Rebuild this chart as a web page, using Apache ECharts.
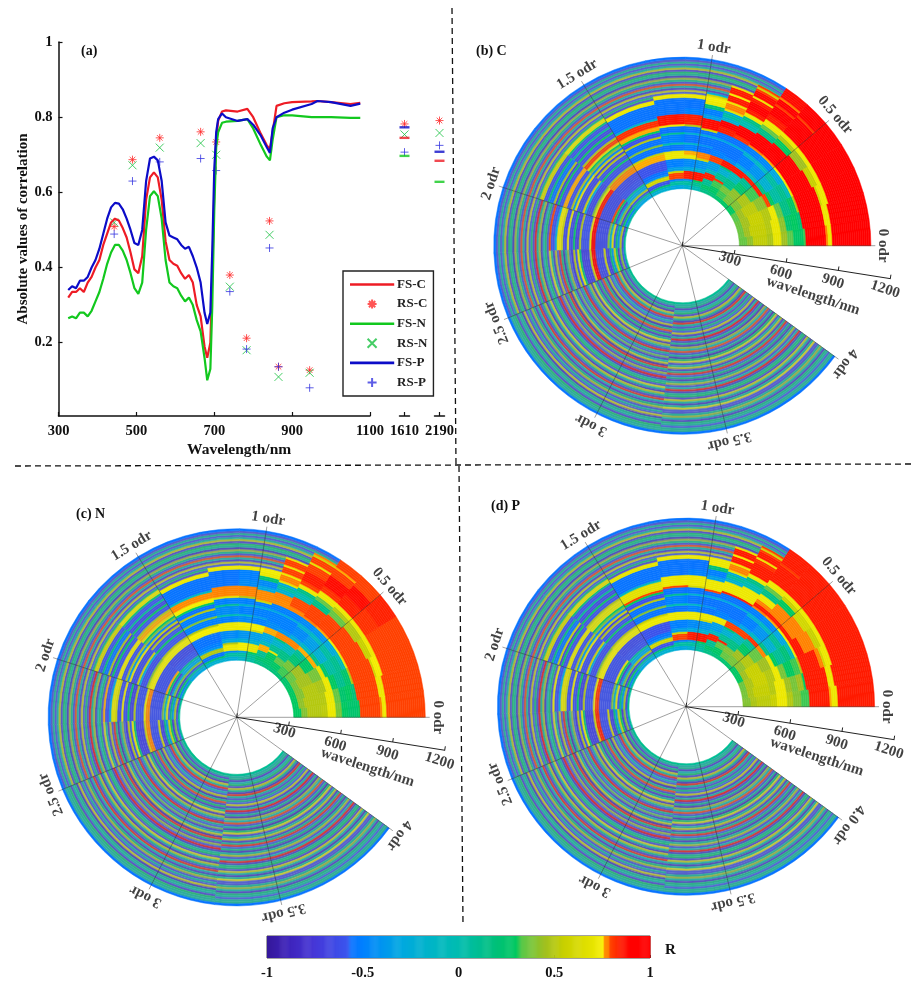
<!DOCTYPE html>
<html><head><meta charset="utf-8">
<style>html,body{margin:0;padding:0;background:#fff}#c{width:916px;height:981px}</style>
<script src="https://cdn.jsdelivr.net/npm/echarts@6/dist/echarts.min.js"></script>
</head><body><div id="c"></div>
<script>
// ---------- panel (a) data ----------
const fsWl=[325,335,345,355,365,375,385,395,405,415,425,435,445,455,465,475,485,495,505,515,525,535,545,555,565,575,585,595,605,615,625,635,645,655,665,675,682,690,695,700,705,710,720,730,760,785,800,820,835,843,850,860,880,900,950,965,1000,1050,1075];
const fsC=[.32,.335,.335,.345,.335,.36,.375,.40,.42,.46,.49,.52,.53,.525,.505,.48,.44,.395,.385,.43,.58,.64,.653,.64,.58,.47,.42,.41,.405,.385,.37,.38,.36,.30,.27,.19,.16,.20,.38,.60,.74,.79,.815,.818,.815,.822,.80,.755,.725,.715,.76,.83,.837,.84,.842,.843,.84,.835,.838];
const fsN=[.265,.27,.265,.28,.28,.27,.285,.31,.335,.37,.41,.44,.46,.46,.445,.42,.385,.345,.33,.36,.50,.59,.603,.59,.53,.42,.36,.35,.345,.325,.31,.32,.30,.26,.23,.16,.10,.13,.30,.55,.72,.76,.785,.788,.79,.795,.77,.725,.695,.685,.74,.80,.805,.805,.80,.80,.80,.798,.798];
const fsP=[.34,.35,.345,.365,.365,.375,.40,.42,.45,.49,.53,.56,.572,.57,.555,.53,.50,.465,.46,.50,.63,.69,.695,.685,.63,.52,.485,.48,.475,.46,.45,.455,.43,.40,.36,.28,.25,.28,.45,.66,.76,.795,.81,.80,.79,.795,.78,.75,.72,.705,.77,.80,.812,.82,.835,.843,.84,.83,.836];
const rsWl=[443,490,560,665,705,740,783,842,865,945];
const rsC=[.509,.687,.745,.761,.734,.38,.212,.524,.136,.127];
const rsN=[.52,.672,.719,.731,.70,.349,.18,.487,.109,.12];
const rsP=[.489,.63,.681,.69,.658,.336,.183,.452,.136,.08];
const extraBands=[1610,2190];
const rsCExtra=[.782,.791], rsNExtra=[.754,.758], rsPExtra=[.707,.725];
const fsCExtra=[.745,.684], fsNExtra=[.697,.628], fsPExtra=[.773,.708];
const yTicks=[.2,.4,.6,.8,1];
// ---------- polar panels: R x 100 as [value, ringCount, ...], inner ring first; rings left over use the stripe list ----------
const orderEdges=[0,.1,.2,.3,.4,.5,.6,.7,.8,.9,1,1.1,1.25,1.5,1.75,2,2.25,2.5,3.25,4];
const firstBand=325, lastBand=1075, ringCount=65;
const stripesA=[10,-80,15,55,-75,5,85,-60,30,-85,0,70,-70,12,50,-55,88,8,-80,30,5,-75,60,15,-85,80,0,-60,45,10,-90,20,85,-65,55,-80,8,72,-70,30,0,-85,50,12,90,-75,25,-60,60,-80,5,80,-70,15,45,-85,10,30,-75,55,8,-65,12,-70,-55];
const stripesB=[12,8,-75,20,-85,60,5,85,-70,0,-60,55,-90,15,80,-75,30,-80,10,72,-85,50,5,-70,88,12,-60,35,-80,0,60,-90,85,15,-75,45,-60,90,-80,8,30,-70,70,5,-85,55,12,-75,85,0,-80,20,48,-70,10,-65,60,-85,15,5,-75,30,10,8,-55];
const stripesC=[10,5,15,-80,0,30,-75,55,12,-85,85,8,-70,20,-60,60,-80,5,90,-75,15,-85,45,0,80,-70,10,-90,30,70,-75,5,55,-80,12,85,-60,20,-85,8,50,-70,0,88,-80,15,30,-75,60,5,-85,10,72,-65,-70,12,45,5,-80,20,8,-60,10,15,-55];
const columnsC=[
[35,4,42,3,53,7,48,3,70,4,45,3,33,3,28,5,32,1,90,10,78,1,72,2,90,19],
[36,3,45,3,54,8,50,3,71,4,42,3,25,3,30,3,22,2,90,11,72,3,90,19],
[36,3,46,4,55,7,50,4,72,3,35,3,15,4,28,3,50,1,90,11,60,1,72,3,90,18],
[33,3,45,3,52,7,42,5,80,2,30,2,5,4,12,3,-5,2,72,1,90,10,55,3,72,2,90,18],
[30,3,40,4,48,5,32,5,85,2,15,2,-20,4,5,3,-30,3,74,1,90,9,45,4,72,2,90,18],
[28,2,38,4,42,4,25,4,10,3,85,2,-10,2,-40,5,-10,2,-45,3,76,1,90,8,30,3,50,2,72,2,90,10,80,1,90,7],
[25,2,32,3,38,3,15,4,-5,4,86,3,-30,2,-50,5,-20,2,-50,3,78,1,90,7,15,3,35,2,72,3,85,3,90,5,80,1,90,3,78,1,88,5],
[20,2,28,3,32,3,82,1,10,3,-20,3,20,1,86,3,-45,2,-55,6,-25,1,-55,3,82,2,90,5,0,3,15,2,72,2,85,2,90,4,85,2,72,1,88,3,80,1,60,1,80,1],
[15,2,25,2,10,3,84,3,-10,2,-35,4,80,3,-50,3,-55,5,-30,1,-55,3,85,3,90,3,-20,2,5,2,-30,1,70,1,78,3,72,1,85,3,75,1,85,3,70,1],
[-5,2,10,2,30,1,86,4,-20,2,-40,4,60,1,78,3,-55,3,-40,1,-55,4,-25,1,-55,2,60,1,88,5,-35,2,-50,3,20,2,72,2,74,2,60,1,-20,1],
[-20,2,5,2,-40,1,85,4,-30,2,-45,4,72,2,76,2,-50,3,-15,1,-55,4,-20,1,-55,3,50,1,84,5,-50,3,-55,5,72,2],
[-30,2,5,2,-50,1,80,3,60,1,-35,2,-50,4,72,3,70,1,-55,3,0,1,-50,4,10,1,-55,3,72,1,86,5,-55,8,72,2],
[-20,2,20,1,-60,2,60,2,-40,1,-55,2,-60,5,76,3,55,1,-55,3,40,1,-55,3,50,1,-60,2,30,1,76,2,82,3,-10,1,-55,7,72,2],
[-30,2,10,1,-60,1,50,1,-30,2,10,1,-60,3,-65,4,78,3,50,1,-60,3,30,1,-60,2,50,1,-70,1,60,1,-50,1,40,1,30,1,70,1,80,2,50,1,-60,2,30,1,-65,2,10,1,-60,2,20,1,70,2],
[5,1,-50,1,30,1,-70,1,40,1,-20,1,-70,1,30,1,80,1,-65,6,85,2,70,1,40,1,-65,3,-30,1,60,1,-65,3,72,1,-40,1,50,1,-60,2,76,2,-60,2,30,1,-70,1,50,1,-55,2,20,1,-60,2,60,2],
[10,1,-70,1,50,1,-40,1,20,1,-60,1,70,1,-20,1,40,1,-65,6,90,2,72,1,-60,4,50,1,-70,2,30,1,-65,2,72,1,-65,2,60,1,72,2,-30,1,-60,2,80,1],
[8,1,-60,1,40,1,-75,1,30,1,60,1,-40,1,20,1,-70,2,60,1,-65,4,90,2,60,1,-70,4,20,1,72,1,-60,1,50,1,-75,1]
];
const columnsN=[
[30,4,40,3,50,7,52,3,72,4,38,3,30,3,25,5,30,1,80,10,78,1,72,2,80,19],
[30,3,42,3,50,8,50,3,72,4,35,3,25,3,30,3,20,2,80,11,72,3,80,19],
[30,3,40,4,50,7,48,4,72,3,30,3,12,4,25,3,50,1,80,11,60,1,74,3,80,18],
[28,3,38,3,46,7,38,5,70,2,25,2,5,4,12,3,-5,2,72,1,80,10,55,3,72,2,80,18],
[25,3,35,4,45,5,28,5,76,2,15,2,-20,4,5,3,-25,3,74,1,80,9,50,4,72,2,82,8,84,10],
[22,2,32,4,38,4,22,4,10,3,76,2,-10,2,-35,5,-10,2,-40,3,76,1,80,8,35,3,50,2,72,2,84,6,88,6,80,6],
[20,2,28,3,34,3,15,4,-5,4,78,3,-25,2,-45,5,-20,2,-45,3,78,1,80,7,15,3,35,2,72,3,82,3,88,6,80,4,76,1,80,5],
[18,2,25,3,30,3,72,1,10,3,-15,3,20,1,78,3,-40,2,-50,6,-25,1,-50,3,78,2,79,5,0,3,15,2,72,2,80,2,85,5,80,4,70,1,80,3,60,1,78,1],
[15,2,22,2,10,3,76,3,-10,2,-30,4,76,3,-45,3,-50,5,-30,1,-50,3,77,3,78,3,-20,2,5,2,-30,1,70,1,78,3,72,1,80,3,72,1,80,3,70,1],
[5,2,10,2,30,1,70,4,-20,2,-35,4,60,1,74,3,-50,3,-35,1,-50,4,-25,1,-50,2,60,1,77,5,-30,2,-45,3,20,2,72,2,74,2],
[-15,2,5,2,-35,1,74,4,-25,2,-40,4,72,2,74,2,-45,3,-15,1,-50,4,-20,1,-50,3,50,1,78,5,-45,3,-50,5,72,2],
[-25,2,5,2,-45,1,72,3,50,1,-30,2,-45,4,72,4,-50,3,0,1,-45,4,10,1,-50,3,70,1,78,5,-55,8,72,2],
[-20,2,20,1,-55,2,50,2,-35,1,-50,2,-55,5,74,3,50,1,-50,3,40,1,-50,3,50,1,-55,2,30,1,74,2,77,3,-10,1,-55,7,72,2],
[-30,2,10,1,-60,1,40,1,-30,2,10,1,-58,3,-65,4,74,3,50,1,-58,3,30,1,-58,2,50,1,-70,1,60,1,-50,1,40,1,30,1,70,1,76,2,50,1,-58,2,30,1,-65,2,10,1,-58,2,20,1,70,2],
[5,1,-50,1,30,1,-70,1,40,1,-20,1,-70,1,30,1,76,1,-62,6,74,2,70,1,40,1,-62,3,-30,1,60,1,-65,3,72,1,-40,1,50,1,-60,2,72,2,-60,2,30,1,-70,1,50,1,-55,2,20,1,-60,2,60,2],
[10,1,-70,1,50,1,-40,1,20,1,-60,1,70,1,-20,1,40,1,-62,6,78,2,72,1,-60,4,50,1,-70,2,30,1,-62,2,72,1,-62,2,60,1,70,2,-30,1,-60,2,76,1],
[8,1,-60,1,40,1,-75,1,30,1,60,1,-40,1,20,1,-70,2,60,1,-62,4,78,2,60,1,-70,4,20,1,72,1,-60,1,50,1,-75,1]
];
const columnsP=[
[40,4,48,3,52,7,55,3,72,5,50,3,40,4,32,4,85,10,76,1,72,3,85,18],
[38,3,48,3,54,8,50,3,72,5,45,3,38,3,45,3,30,1,85,11,72,3,85,19],
[36,3,48,4,56,7,50,4,72,3,38,3,30,4,32,3,50,1,85,9,78,2,60,1,72,3,85,18],
[30,3,45,3,55,7,45,5,72,2,30,2,10,4,20,3,-5,2,72,1,86,4,78,6,55,3,72,2,85,18],
[28,3,42,4,50,5,35,5,78,2,15,2,-20,4,10,3,-30,3,74,1,85,2,78,7,60,4,72,2,85,18],
[25,2,38,4,45,4,28,4,10,3,82,2,-10,2,-40,5,-10,2,-45,3,76,1,85,2,78,6,30,3,55,2,72,2,85,18],
[22,2,35,3,40,3,15,4,-5,4,80,3,-30,2,-50,5,-20,2,-50,3,78,1,85,2,78,2,72,3,15,3,35,2,72,3,85,9,80,1,85,8],
[20,2,28,3,34,3,85,1,10,3,-20,3,20,1,80,3,-45,2,-55,6,-25,1,-55,3,85,1,72,6,0,3,15,2,72,2,85,6,82,2,72,1,85,3,80,1,60,1,80,1],
[15,2,25,2,10,3,84,3,-10,2,-35,4,72,3,-50,3,-55,5,-30,1,-55,3,84,1,72,5,-20,2,5,2,-30,1,70,1,78,3,72,1,85,3,75,1,85,3,70,1],
[5,2,10,2,30,1,86,4,-20,2,-40,4,60,1,72,3,-55,3,-40,1,-55,4,-25,1,-55,2,80,1,72,5,-35,2,-50,3,20,2,72,4],
[-20,2,5,2,-40,1,85,4,-30,2,-45,4,72,4,-50,3,-15,1,-55,4,-20,1,-55,3,60,1,72,5,-50,3,-55,5,72,2],
[-30,2,5,2,-50,1,80,3,60,1,-35,2,-50,4,72,4,-55,3,0,1,-50,4,10,1,-55,3,80,1,72,5,-55,8,72,2],
[-20,2,20,1,-60,2,60,2,-40,1,-55,2,-60,5,72,3,55,1,-55,3,40,1,-55,3,50,1,-60,2,30,1,80,1,68,4,-10,1,-55,7,70,2],
[-30,2,10,1,-60,1,50,1,-30,2,10,1,-60,3,-65,4,72,3,50,1,-60,3,30,1,-60,2,50,1,-70,1,60,1,-50,1,40,1,30,1,70,1,68,2,50,1,-60,2,30,1,-65,2,10,1,-60,2,20,1,68,2],
[5,1,-50,1,30,1,-70,1,40,1,-20,1,-70,1,30,1,72,1,-62,6,74,2,70,1,40,1,-62,3,-30,1,60,1,-62,3,72,1,-40,1,50,1,-60,2,70,2,-60,2,30,1,-70,1,60,1,-55,2,20,1,-60,2,60,2],
[10,1,-70,1,50,1,-40,1,20,1,-60,1,70,1,-20,1,40,1,-62,6,82,2,72,1,-60,4,50,1,-70,2,30,1,-62,2,72,1,-62,2,60,1,68,2,-30,1,-60,2,72,1],
[8,1,-60,1,40,1,-75,1,30,1,60,1,-40,1,20,1,-70,2,60,1,-62,4,84,2,60,1,-70,4,20,1,72,1,-60,1,50,1,-75,1]
];
const orderTicks=[0,.5,1,1.5,2,2.5,3,3.5,4];
const orderLabelsC=['0 odr','0.5 odr','1 odr','1.5 odr','2 odr','2.5 odr','3 odr','3.5 odr','4 odr'];
const orderLabelsP=['0 odr','0.5 odr','1 odr','1.5 odr','2 odr','2.5 odr','3 odr','3.5 odr','4.0 odr'];
const wavelengthTicks=[300,600,900,1200];
const stopValues=[-1,-.9,-.75,-.58,-.56,-.5,-.3,-.1,0,.2,.3,.33,.45,.55,.7,.755,.762,.785,.79,.84,.9,1];
const stopColors=['#35189a','#3d22b8','#4638d8','#3a55ee','#0a72ff','#0080ff','#00a8e0','#00b8c0','#00bcb0','#00c078','#00c860','#5ac84a','#a0c020','#c8d000','#e6e400','#f8f000','#ff9000','#ff8000','#ff4800','#ff2000','#ff0000','#ff0000'];

// ---------- helpers ----------
const FONT='"Liberation Serif"';
const hex=h=>[1,3,5].map(i=>parseInt(h.substr(i,2),16));
function colorOf(v,mute){
  let i=0; while(i<stopValues.length-2&&v>stopValues[i+1])i++;
  const t=Math.max(0,Math.min(1,(v-stopValues[i])/(stopValues[i+1]-stopValues[i])));
  const a=hex(stopColors[i]),b=hex(stopColors[i+1]),g=[125,145,165];
  const c=a.map((x,k)=>(x+(b[k]-x)*t)*(1-mute)+g[k]*mute);
  return `rgb(${c.map(Math.round).join(',')})`;
}
const bandAt=i=>firstBand+(lastBand-firstBand)*i/ringCount;
function panelCells(columns){
  const out=[];
  for(let s=0;s<orderEdges.length-1;s++){
    const col=columns[s], vals=[];
    if(col) for(let k=0;k<col.length;k+=2) for(let n=0;n<col[k+1];n++) vals.push(col[k]);
    const stripes=s<17?stripesA:(s===17?stripesB:stripesC);
    for(let i=0;i<ringCount;i++){
      const typed=i<vals.length;
      const v=typed?vals[i]:stripes[i];
      const mute=(i===0||i===ringCount-1)?0:(typed?(s>=13?.15:0):.38);
      out.push([bandAt(i),bandAt(i+1),orderEdges[s],orderEdges[s+1],v/100,mute]);
    }
  }
  return out;
}
const renderCell=(params,api)=>{
  const a=api.coord([api.value(0),api.value(2)]), b=api.coord([api.value(1),api.value(3)]);
  const fill=colorOf(api.value(4),api.value(5));
  return {type:'sector',shape:{cx:params.coordSys.cx,cy:params.coordSys.cy,r0:a[2],r:b[2],startAngle:-a[3],endAngle:-b[3],clockwise:false},
    style:{fill,stroke:fill,lineWidth:.5}};
};
const STAR='path://M5,0V10M0,5H10M1.5,1.5L8.5,8.5M1.5,8.5L8.5,1.5', CROSS='path://M1,1L9,9M1,9L9,1', PLUS='path://M5,0V10M0,5H10';
const FLAT='path://M0,4.95H10V5.05H0Z';
const tickFont={fontFamily:FONT,fontWeight:'bold',fontSize:14.5,color:'#111'};
const axisBlack={lineStyle:{color:'#111',width:1.5}};

// ---------- panel (a) ----------
const grid=[{left:58.5,top:42,width:311.5,height:374},{left:399.5,top:42,width:10,height:374},{left:434.5,top:42,width:10,height:374}];
const xAxis=[
 {gridIndex:0,type:'value',min:300,max:1100,interval:200,splitLine:{show:false},axisLine:axisBlack,axisTick:{inside:true,length:4,lineStyle:{color:'#111',width:1.2}},axisLabel:{...tickFont,margin:8,formatter:v=>String(v)}},
 ...extraBands.map((b,i)=>({gridIndex:i+1,type:'value',min:b-10,max:b+10,splitLine:{show:false},axisLine:{...axisBlack,onZero:false},axisTick:{inside:true,length:4,customValues:[b],lineStyle:{color:'#111',width:1.2}},axisLabel:{...tickFont,margin:8,customValues:[b],formatter:v=>String(v),showMinLabel:true,showMaxLabel:true,hideOverlap:false}}))
];
const yAxis=[
 {gridIndex:0,type:'value',min:.005,max:1,splitLine:{show:false},axisLine:{...axisBlack,onZero:false},axisTick:{inside:true,length:4,customValues:yTicks,lineStyle:{color:'#111',width:1.2}},axisLabel:{...tickFont,margin:6,customValues:yTicks},
  name:'Absolute values of correlation',nameLocation:'middle',nameGap:27,nameTextStyle:{fontFamily:FONT,fontWeight:'bold',fontSize:15,color:'#111'}},
 {gridIndex:1,type:'value',min:.005,max:1,show:false},{gridIndex:2,type:'value',min:.005,max:1,show:false}
];
const zip=(xs,ys)=>xs.map((x,i)=>[x,ys[i]]);
const lineS=(name,ys,color)=>({name,type:'line',xAxisIndex:0,yAxisIndex:0,data:zip(fsWl,ys),symbol:'none',z:4,lineStyle:{color,width:2.2},itemStyle:{color}});
const markS=(name,ys,symbol,color)=>({name,type:'scatter',xAxisIndex:0,yAxisIndex:0,data:zip(rsWl,ys),symbol,symbolSize:8,z:3,itemStyle:{color:'rgba(0,0,0,0)',borderColor:color,borderWidth:1}});
const RED='#ee1c25',GREEN='#12c81e',BLUE='#0c0cc8',MR='#ff2a2a',MG='#18c040',MB='#3434e0';
const series=[
 lineS('FS-C',fsC,RED),markS('RS-C',rsC,STAR,MR),lineS('FS-N',fsN,GREEN),markS('RS-N',rsN,CROSS,MG),lineS('FS-P',fsP,BLUE),markS('RS-P',rsP,PLUS,MB)
];
extraBands.forEach((b,i)=>{
  [[rsCExtra,STAR,MR],[rsNExtra,CROSS,MG],[rsPExtra,PLUS,MB]].forEach(([a,sym,c])=>series.push({type:'scatter',xAxisIndex:i+1,yAxisIndex:i+1,data:[[b,a[i]]],symbol:sym,symbolSize:8,itemStyle:{color:'rgba(0,0,0,0)',borderColor:c,borderWidth:1}}));
  [[fsCExtra,RED],[fsNExtra,GREEN],[fsPExtra,BLUE]].forEach(([a,c])=>series.push({type:'scatter',xAxisIndex:i+1,yAxisIndex:i+1,data:[[b,a[i]]],symbol:'rect',symbolSize:[10,2.4],itemStyle:{color:c}}));
});

// ---------- polar panels ----------
const panels=[
 {cx:682.3,cy:245.7,cols:columnsC,labels:orderLabelsC},
 {cx:236.7,cy:717.3,cols:columnsN,labels:orderLabelsC},
 {cx:686,cy:706.7,cols:columnsP,labels:orderLabelsP}
];
const polar=[],angleAxis=[],radiusAxis=[];
const DEG=81; // one odr spans 81 degrees
const tickLabelAngle=[16,15.3,13.4,12.2];
panels.forEach((p,k)=>{
  const b=k*3;
  polar.push({center:[p.cx,p.cy],radius:[0,193]},{center:[p.cx,p.cy],radius:[0,210.6]},{center:[p.cx,p.cy],radius:[0,228.2]});
  angleAxis.push(
   {polarIndex:b,type:'value',min:0,max:360/DEG,interval:.5,startAngle:0,clockwise:false,z:5,axisLine:{show:false},axisTick:{show:false},axisLabel:{show:false},splitLine:{show:true,lineStyle:{color:'rgba(45,45,45,.5)',width:.9}}},
   {polarIndex:b+1,type:'value',min:0,max:360,startAngle:351,clockwise:false,show:false},
   {polarIndex:b+2,type:'value',min:0,max:360/DEG,startAngle:0,clockwise:false,show:false});
  radiusAxis.push(
   {polarIndex:b,type:'value',min:0,max:1100,show:false},
   {polarIndex:b+1,type:'value',min:0,max:1200,interval:300,z:6,splitLine:{show:false},axisLine:{lineStyle:{color:'#222',width:1}},axisTick:{length:4,inside:true,lineStyle:{color:'#222'}},axisLabel:{show:false}},
   {polarIndex:b+2,type:'value',min:0,max:1300,show:false});
  series.push({type:'custom',coordinateSystem:'polar',polarIndex:b,silent:true,data:panelCells(p.cols),encode:{radius:0,angle:2},renderItem:renderCell,z:2});
  const labelData=orderTicks.map((o,i)=>({value:[1145,o],label:{formatter:p.labels[i],rotate:o*DEG-90}}));
  labelData.push({value:[798,(360-21)/DEG],label:{formatter:'wavelength/nm',rotate:-18}});
  wavelengthTicks.forEach((w,i)=>labelData.push({value:[w-18,(360-tickLabelAngle[i])/DEG],label:{formatter:String(w),rotate:-18}}));
  series.push({type:'scatter',coordinateSystem:'polar',polarIndex:b+2,silent:true,symbolSize:1,itemStyle:{color:'rgba(0,0,0,0)'},data:labelData,z:7,
    label:{show:true,position:'inside',fontFamily:FONT,fontWeight:'bold',fontSize:15,color:'#111'}});
});

// ---------- colour bar ----------
grid.push({left:267,top:936,width:383,height:23,show:true,borderColor:'#444',borderWidth:1});
xAxis.push({gridIndex:3,type:'value',min:-1,max:1,interval:.5,splitLine:{show:false},axisLine:{show:false},axisTick:{inside:true,length:3,lineStyle:{color:'#333'}},axisLabel:{...tickFont,margin:8}});
yAxis.push({gridIndex:3,type:'value',min:0,max:1,show:false});
const colorbarSteps=[];
for(let i=0;i<400;i++)colorbarSteps.push([-1+i*.005,-1+(i+1)*.005]);
series.push({type:'custom',xAxisIndex:3,yAxisIndex:3,silent:true,data:colorbarSteps,encode:{x:[0,1]},z:1,renderItem:(params,api)=>{
  const a=api.coord([api.value(0),1]),b=api.coord([api.value(1),0]);
  return {type:'rect',shape:{x:a[0],y:a[1],width:b[0]-a[0]+.5,height:b[1]-a[1]},style:{fill:colorOf((api.value(0)+api.value(1))/2,0)}};
}});

const txt=(text,x,y,size=14)=>({type:'text',x,y,silent:true,style:{text,font:`bold ${size}px ${FONT}`,fill:'#111',textVerticalAlign:'middle'}});
const dash=(x1,y1,x2,y2)=>({type:'line',silent:true,shape:{x1,y1,x2,y2},style:{stroke:'#111',lineWidth:1.3,lineDash:[6,4]}});
const flatItem=(name,c)=>({name,icon:FLAT,itemStyle:{color:c,borderColor:c,borderWidth:2.2}});
const chart=echarts.init(document.getElementById('c'),null,{renderer:'canvas'});
chart.setOption({
  animation:false,backgroundColor:'#fff',tooltip:{show:false},
  grid,xAxis,yAxis,polar,angleAxis,radiusAxis,series,
  legend:{left:343,top:271,orient:'vertical',
    data:[flatItem('FS-C',RED),'RS-C',flatItem('FS-N',GREEN),'RS-N',flatItem('FS-P',BLUE),'RS-P'],selectedMode:false,
    borderColor:'#222',borderWidth:1.4,backgroundColor:'#fff',padding:[7,6,7,7],itemWidth:42,itemHeight:9,itemGap:6.6,z:8,
    textStyle:{fontFamily:FONT,fontWeight:'bold',fontSize:13,color:'#222',padding:[0,0,0,-1]}},
  graphic:{elements:[
    txt('(a)',81,51),txt('(b) C',476,51),txt('(c) N',76,514),txt('(d) P',491,506),
    txt('Wavelength/nm',187,450,15.5),txt('R',665,950,15),
    dash(452,8,456,465),dash(15,466,915,464),dash(459,466,463,925)
  ]}
});
</script></body></html>
